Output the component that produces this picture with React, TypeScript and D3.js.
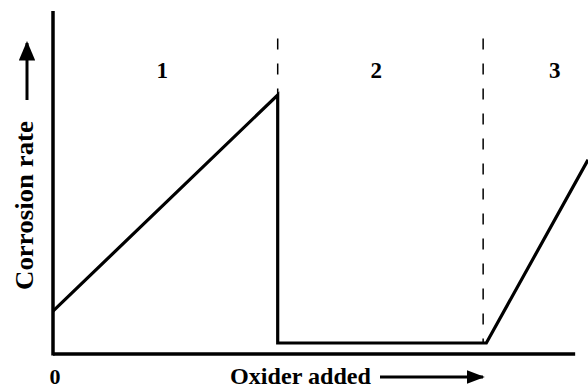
import React from "react";
import * as d3 from "d3";

const W = 588;
const H = 390;

// curve (oxidizer added vs corrosion rate), arbitrary units
const curveX = [0, 42, 42, 81, 100];
const curveY = [12.5, 75.5, 3.2, 3.2, 56.6];

// region boundaries
const boundaries = [42, 80.4];
const boundaryTop = 92;
const regionLabels = ["1", "2", "3"];
const regionLabelX = [20.4, 60.4, 93.8];

export default function App() {
  const x = d3.scaleLinear().domain([0, 100]).range([53, 588]);
  const y = d3.scaleLinear().domain([0, 100]).range([354, 11]);

  const line = d3
    .line<number>()
    .x((_, i) => x(curveX[i]))
    .y((d) => y(d));

  const font = "'Liberation Serif', 'Times New Roman', serif";

  return (
    <svg
      width={W}
      height={H}
      style={{ position: "absolute", left: 0, top: 0, background: "#fff" }}
    >
      <defs>
        <marker
          id="ahY"
          viewBox="0 0 10 10"
          refX="9"
          refY="5"
          markerWidth="6.5"
          markerHeight="5.5"
          orient="auto"
          markerUnits="strokeWidth"
          preserveAspectRatio="none"
        >
          <path d="M0,0 L10,5 L0,10 z" fill="#000" />
        </marker>
        <marker
          id="ahX"
          viewBox="0 0 10 10"
          refX="9"
          refY="5"
          markerWidth="6"
          markerHeight="4.5"
          orient="auto"
          markerUnits="strokeWidth"
          preserveAspectRatio="none"
        >
          <path d="M0,0 L10,5 L0,10 z" fill="#000" />
        </marker>
      </defs>

      {/* dashed boundaries */}
      {boundaries.map((b, i) => (
        <line
          key={i}
          x1={x(b)}
          x2={x(b)}
          y1={y(boundaryTop)}
          y2={i === 0 ? y(curveY[1]) : y(curveY[2])}
          stroke="#000"
          strokeWidth={1.5}
          strokeDasharray="11,14"
        />
      ))}

      {/* axes */}
      <line x1={x(0)} x2={x(0)} y1={y(100)} y2={y(0) + 1.5} stroke="#000" strokeWidth={3.5} />
      <line x1={x(0)} x2={x(97.6)} y1={y(0)} y2={y(0)} stroke="#000" strokeWidth={3.5} />

      {/* curve */}
      <path
        d={line(curveY) || ""}
        fill="none"
        stroke="#000"
        strokeWidth={3.2}
        strokeLinejoin="miter"
      />

      {/* region labels */}
      {regionLabels.map((t, i) => (
        <text
          key={t}
          x={x(regionLabelX[i])}
          y={78}
          textAnchor="middle"
          fontFamily={font}
          fontWeight="bold"
          fontSize={23}
        >
          {t}
        </text>
      ))}

      {/* y label */}
      <text
        transform={`translate(33,205.5) rotate(-90)`}
        textAnchor="middle"
        fontFamily={font}
        fontWeight="bold"
        fontSize={25}
        textLength={169}
        lengthAdjust="spacingAndGlyphs"
      >
        Corrosion rate
      </text>
      <line
        x1={27}
        x2={27}
        y1={100}
        y2={43}
        stroke="#000"
        strokeWidth={3}
        markerEnd="url(#ahY)"
      />

      {/* x label */}
      <text
        x={55}
        y={384}
        textAnchor="middle"
        fontFamily={font}
        fontWeight="bold"
        fontSize={22}
      >
        0
      </text>
      <text
        x={230}
        y={384}
        fontFamily={font}
        fontWeight="bold"
        fontSize={23}
        textLength={141}
        lengthAdjust="spacingAndGlyphs"
      >
        Oxider added
      </text>
      <line
        x1={380}
        x2={483}
        y1={377}
        y2={377}
        stroke="#000"
        strokeWidth={3}
        markerEnd="url(#ahX)"
      />
    </svg>
  );
}
